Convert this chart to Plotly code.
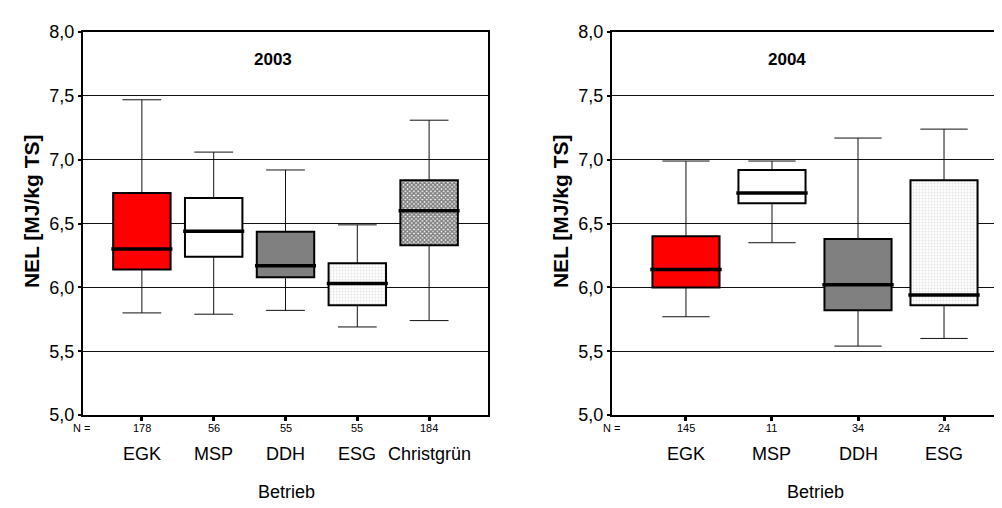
import plotly.graph_objects as go

W, H = 1002, 508
FONT = "Liberation Sans, Arial, sans-serif"

# ---------------- data ----------------
cats_2003 = ["EGK", "MSP", "DDH", "ESG", "Christgrün"]
n_2003 = [178, 56, 55, 55, 184]
lower_2003 = [5.80, 5.79, 5.82, 5.69, 5.74]
q1_2003 = [6.14, 6.24, 6.08, 5.86, 6.33]
med_2003 = [6.30, 6.44, 6.17, 6.03, 6.60]
q3_2003 = [6.74, 6.70, 6.435, 6.19, 6.84]
upper_2003 = [7.47, 7.06, 6.92, 6.49, 7.31]

cats_2004 = ["EGK", "MSP", "DDH", "ESG"]
n_2004 = [145, 11, 34, 24]
lower_2004 = [5.77, 6.35, 5.54, 5.60]
q1_2004 = [6.00, 6.66, 5.82, 5.86]
med_2004 = [6.14, 6.74, 6.02, 5.94]
q3_2004 = [6.40, 6.92, 6.38, 6.84]
upper_2004 = [6.99, 6.99, 7.17, 7.24]

y_ticks = [5.0, 5.5, 6.0, 6.5, 7.0, 7.5, 8.0]

# styles per category
fill_colors = {"EGK": "#ff0000", "MSP": "#ffffff", "DDH": "#808080",
               "ESG": "#ffffff", "Christgrün": "#ffffff"}
patterns = {
    "ESG": dict(shape=".", fgcolor="#c4c4c4", size=3, solidity=0.35,
                fillmode="overlay"),
    "Christgrün": dict(shape="x", fgcolor="#000000", size=3, solidity=0.75,
                       fillmode="overlay"),
}


def px(x):
    return x / W


def py(y):
    return 1 - y / H


fig = go.Figure()

panels = [
    dict(cats=cats_2003, n=n_2003, lo=lower_2003, q1=q1_2003, med=med_2003,
         q3=q3_2003, hi=upper_2003, xa="x", ya="y", bw=0.80, cw=0.54,
         title="2003", title_px=(265, 43), ntitle_px=73, betrieb_px=278,
         ytitle_px=23),
    dict(cats=cats_2004, n=n_2004, lo=lower_2004, q1=q1_2004, med=med_2004,
         q3=q3_2004, hi=upper_2004, xa="x2", ya="y2", bw=0.78, cw=0.55,
         title="2004", title_px=(779, 43), ntitle_px=603, betrieb_px=807,
         ytitle_px=552),
]

annotations = []
for p in panels:
    pos = list(range(len(p["cats"])))
    # whiskers
    wx, wy = [], []
    for i, x in enumerate(pos):
        c = p["cw"] / 2
        wx += [x, x, None, x, x, None, x - c, x + c, None, x - c, x + c, None]
        wy += [p["q3"][i], p["hi"][i], None, p["q1"][i], p["lo"][i], None,
               p["hi"][i], p["hi"][i], None, p["lo"][i], p["lo"][i], None]
    fig.add_trace(go.Scatter(x=wx, y=wy, mode="lines",
                             line=dict(color="#111111", width=1),
                             xaxis=p["xa"], yaxis=p["ya"], showlegend=False,
                             hoverinfo="skip"))
    # boxes (one bar trace per category)
    for i, c in enumerate(p["cats"]):
        marker = dict(color=fill_colors[c],
                      line=dict(color="#000000", width=2))
        if c in patterns:
            marker["pattern"] = patterns[c]
        fig.add_trace(go.Bar(
            x=[pos[i]], base=[p["q1"][i]], y=[p["q3"][i] - p["q1"][i]],
            width=p["bw"], marker=marker,
            xaxis=p["xa"], yaxis=p["ya"], showlegend=False, hoverinfo="skip"))
    # medians
    mx, my = [], []
    for i, x in enumerate(pos):
        h = p["bw"] / 2 + 0.025
        mx += [x - h, x + h, None]
        my += [p["med"][i], p["med"][i], None]
    fig.add_trace(go.Scatter(x=mx, y=my, mode="lines",
                             line=dict(color="#000000", width=3.5),
                             xaxis=p["xa"], yaxis=p["ya"], showlegend=False,
                             hoverinfo="skip"))
    # x labels: N counts and names
    xref = p["xa"]
    for i, x in enumerate(pos):
        annotations.append(dict(x=x, xref=xref, y=py(427), yref="paper",
                                text=str(p["n"][i]), showarrow=False,
                                font=dict(size=11, color="#000"),
                                xanchor="center", yanchor="middle"))
        annotations.append(dict(x=x, xref=xref, y=py(454), yref="paper",
                                text=p["cats"][i], showarrow=False,
                                font=dict(size=18, color="#000"),
                                xanchor="center", yanchor="middle"))
    annotations.append(dict(x=px(p["ntitle_px"]), xref="paper", y=py(427),
                            yref="paper", text="N =", showarrow=False,
                            font=dict(size=11, color="#000"),
                            xanchor="center", yanchor="middle"))
    annotations.append(dict(x=px(p["betrieb_px"]), xref="paper", y=py(493),
                            yref="paper", text="Betrieb", showarrow=False,
                            font=dict(size=18, color="#000"),
                            xanchor="center", yanchor="middle"))
    annotations.append(dict(x=px(p["title_px"][0]), xref="paper",
                            y=py(p["title_px"][1]), yref="paper",
                            text="<b>" + p["title"] + "</b>", showarrow=False,
                            font=dict(size=17, color="#000"),
                            xanchor="center", yanchor="middle"))
    annotations.append(dict(x=px(p["ytitle_px"]), xref="paper", y=py(201),
                            yref="paper", text="<b>NEL [MJ/kg TS]</b>",
                            textangle=-90, showarrow=False,
                            font=dict(size=21, color="#000"),
                            xanchor="center", yanchor="middle"))

ydom = [py(413.3), py(14.7)]
yaxis_common = dict(range=[5.0, 8.0], tickvals=y_ticks, tickformat=".1f",
                    showgrid=True, gridcolor="#111111", gridwidth=1,
                    showline=True, linecolor="#000000", linewidth=2,
                    ticks="outside", ticklen=3, tickwidth=2, tickcolor="#000",
                    tickfont=dict(size=18, color="#000"), zeroline=False,
                    domain=ydom, fixedrange=True)
xaxis_common = dict(showgrid=False, zeroline=False, showline=True,
                    linecolor="#000000", linewidth=2, mirror=True,
                    ticks="outside", ticklen=4, tickwidth=3, tickcolor="#000",
                    showticklabels=False, fixedrange=True)

fig.update_layout(
    width=W, height=H,
    margin=dict(l=0, r=0, t=0, b=0),
    paper_bgcolor="#ffffff", plot_bgcolor="#ffffff",
    font=dict(family=FONT, color="#000"),
    separators=", ",
    barmode="overlay",
    showlegend=False,
    annotations=annotations,
    xaxis=dict(xaxis_common, domain=[px(75), px(480)], range=[-0.82, 4.82],
               tickvals=list(range(len(cats_2003))), anchor="y"),
    yaxis=dict(yaxis_common, mirror=True, anchor="x"),
    xaxis2=dict(xaxis_common, domain=[px(604), 1.0], range=[-0.86, 3.767],
                tickvals=list(range(len(cats_2004))), anchor="y2"),
    yaxis2=dict(yaxis_common, mirror=False, anchor="x2"),
)

fig.write_html("out.html")
